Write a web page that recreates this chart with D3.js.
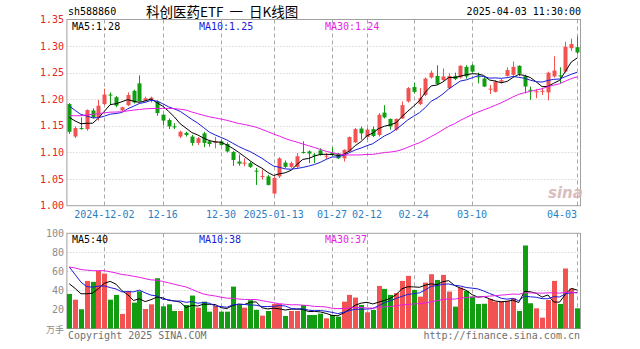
<!DOCTYPE html>
<html><head><meta charset="utf-8">
<script src="https://cdn.jsdelivr.net/npm/d3@7"></script>
<style>
body{margin:0;background:#fff}
svg{display:block}
text{font-family:"DejaVu Sans Mono","Liberation Mono",monospace}
</style>
</head><body>
<svg id="c" width="640" height="349"></svg>
<script>
// ---------- DATA ----------
const dates = ["2024-11-22","2024-11-25","2024-11-26","2024-11-27","2024-11-28","2024-11-29",
"2024-12-02","2024-12-03","2024-12-04","2024-12-05","2024-12-06","2024-12-09","2024-12-10","2024-12-11","2024-12-12","2024-12-13",
"2024-12-16","2024-12-17","2024-12-18","2024-12-19","2024-12-20","2024-12-23","2024-12-24","2024-12-25","2024-12-26","2024-12-27",
"2024-12-30","2024-12-31","2025-01-02","2025-01-03","2025-01-06","2025-01-07","2025-01-08","2025-01-09","2025-01-10",
"2025-01-13","2025-01-14","2025-01-15","2025-01-16","2025-01-17","2025-01-20","2025-01-21","2025-01-22","2025-01-23","2025-01-24",
"2025-01-27","2025-02-05","2025-02-06","2025-02-07","2025-02-10","2025-02-11","2025-02-12","2025-02-13","2025-02-14",
"2025-02-17","2025-02-18","2025-02-19","2025-02-20","2025-02-21","2025-02-24","2025-02-25","2025-02-26","2025-02-27","2025-02-28",
"2025-03-03","2025-03-04","2025-03-05","2025-03-06","2025-03-07","2025-03-10","2025-03-11","2025-03-12","2025-03-13","2025-03-14",
"2025-03-17","2025-03-18","2025-03-19","2025-03-20","2025-03-21","2025-03-24","2025-03-25","2025-03-26","2025-03-27","2025-03-28",
"2025-03-31","2025-04-01","2025-04-02","2025-04-03"];

const open  = [1.191,1.130,1.146,1.144,1.179,1.166,1.191,1.209,1.204,1.179,1.189,1.216,1.230,1.197,1.199,1.196,1.171,1.161,1.149,1.130,
1.137,1.130,1.118,1.136,1.121,1.118,1.121,1.116,1.101,1.083,1.079,1.080,1.066,1.054,1.055,1.023,1.055,1.081,1.073,1.073,
1.101,1.102,1.096,1.104,1.093,1.099,1.098,1.089,1.102,1.119,1.145,1.129,1.144,1.133,1.175,1.163,1.143,1.164,1.196,1.223,
1.191,1.208,1.241,1.244,1.236,1.221,1.244,1.241,1.261,1.264,1.243,1.239,1.219,1.214,1.233,1.244,1.246,1.263,1.244,1.218,
1.214,1.214,1.213,1.243,1.245,1.252,1.296,1.298];
const high  = [1.193,1.149,1.166,1.181,1.183,1.199,1.220,1.213,1.206,1.186,1.213,1.218,1.245,1.205,1.205,1.198,1.172,1.164,1.155,1.141,
1.139,1.133,1.129,1.139,1.124,1.129,1.124,1.119,1.103,1.096,1.089,1.083,1.071,1.068,1.058,1.055,1.091,1.085,1.083,1.099,
1.121,1.104,1.099,1.108,1.099,1.110,1.099,1.106,1.130,1.146,1.149,1.146,1.149,1.174,1.189,1.164,1.164,1.196,1.223,1.231,
1.221,1.241,1.254,1.264,1.258,1.249,1.250,1.264,1.264,1.266,1.250,1.243,1.227,1.236,1.238,1.260,1.271,1.264,1.246,1.224,
1.219,1.221,1.252,1.281,1.260,1.308,1.314,1.318];
const low   = [1.135,1.127,1.143,1.141,1.164,1.160,1.189,1.189,1.185,1.178,1.187,1.192,1.195,1.196,1.194,1.169,1.152,1.144,1.144,1.127,
1.130,1.113,1.114,1.110,1.111,1.108,1.113,1.100,1.075,1.075,1.074,1.071,1.039,1.049,1.038,1.021,1.052,1.071,1.071,1.071,
1.098,1.080,1.080,1.094,1.088,1.094,1.088,1.083,1.100,1.118,1.124,1.124,1.129,1.130,1.164,1.143,1.141,1.163,1.194,1.211,
1.189,1.206,1.239,1.227,1.235,1.219,1.236,1.239,1.239,1.250,1.230,1.223,1.210,1.213,1.230,1.243,1.244,1.244,1.211,1.199,
1.202,1.208,1.198,1.241,1.230,1.250,1.291,1.285];
const close = [1.139,1.146,1.144,1.180,1.166,1.188,1.209,1.207,1.188,1.185,1.208,1.194,1.196,1.202,1.203,1.174,1.160,1.149,1.148,1.139,
1.133,1.118,1.127,1.118,1.116,1.121,1.114,1.102,1.086,1.079,1.081,1.073,1.064,1.056,1.039,1.052,1.089,1.073,1.080,1.093,
1.100,1.098,1.095,1.096,1.094,1.098,1.089,1.105,1.129,1.144,1.136,1.143,1.131,1.171,1.166,1.149,1.163,1.189,1.221,1.214,
1.202,1.239,1.250,1.229,1.243,1.244,1.238,1.263,1.243,1.252,1.242,1.224,1.220,1.233,1.236,1.255,1.261,1.248,1.224,1.216,
1.215,1.216,1.250,1.254,1.243,1.299,1.304,1.288];
// volume, 万手
const volume = [36.3,30.3,20.2,50,49,60.5,57.7,30.3,35.3,15.3,39.1,27.2,39.1,20.5,25.4,52.8,23.3,25.4,18.4,18.4,
24.7,34.6,21.9,28.2,17.7,23.7,17.7,17.7,44,24.7,21.9,29.7,19.5,13.5,18.4,25.8,26,13.2,18.4,18.4,
24.7,14.2,14.2,15.6,10.7,14.2,12.5,28.2,35.3,32.5,24.7,17,19.5,44.7,41.6,35.3,37.2,50,55.3,40.5,
33.5,48.2,57,51,56.3,38.8,23,43,39.5,33.5,25.8,26,31,28.2,28.9,28.9,31.8,18.4,87.2,26.5,
21.2,11.4,30,50,25.8,63,42,21.2];
// sessions before the visible window (estimated, used only to seed the moving averages)
const priorCloses = [1.15,1.14,1.13,1.14,1.15,1.16,1.17,1.18,1.17,1.16,1.15,1.16,1.17,1.18,1.17,1.16,1.15,1.16,1.17,1.18,
1.23,1.22,1.21,1.20,1.185,1.18,1.17,1.175,1.166];
const priorVolumes = [62,68,70,65,60,58,66,72,64,60,62,70,66,63,61,65,68,64,62,66,
110,100,96.5,55,49.5,55,48,50,45.7];

const tickDates  = ["2024-12-02","2024-12-16","2024-12-30","2025-01-13","2025-01-27","2025-02-12","2025-02-24","2025-03-10","2025-04-03"];
const tickLabels = ["2024-12-02","12-16","12-30","2025-01-13","01-27","02-12","02-24","03-10","04-03"];
const priceTicks = [1.00,1.05,1.10,1.15,1.20,1.25,1.30,1.35];
const volTicks   = [20,40,60,80,100];
const maPeriods  = [5,10,30];
const titleParts = ["科创医药ETF","一","日K线图"];

// ---------- HELPERS ----------
function movingAvg(series, prior, n){
  const all = prior.concat(series), off = prior.length;
  return series.map((_,i)=>{
    const end = i+off, st = end-n+1;
    if (st < 0) return null;
    return d3.mean(all.slice(st, end+1));
  });
}

// ---------- LAYOUT ----------
const svg = d3.select("#c");
const L = 66.4, R = 580.0;
const mTop = 19.5, mBot = 205.7, vTop = 233.3, vBot = 328.5;
const RED = "#f25252", GREEN = "#129c12";
const maColors = ["#000000","#1c1cd8","#e61ee6"];

const x = d3.scaleBand().domain(d3.range(dates.length)).range([L, R]).paddingInner(0.3).paddingOuter(0.15);
const cx = i => x(i) + x.bandwidth()/2;
const y = d3.scaleLinear().domain([1.00,1.35]).range([mBot, mTop]);
const yv = d3.scaleLinear().domain([0,100]).range([vBot, vTop]);
const tickIdx = tickDates.map(d => dates.indexOf(d));

// ---------- HEADER ----------
svg.append("text").attr("x",68).attr("y",15).attr("font-size","10px").attr("fill","#000").text("sh588860");
const title = svg.append("text").attr("x",146).attr("y",16.5).attr("font-size","13.5px")
   .style("font-family","'Noto Sans CJK SC',sans-serif").attr("fill","#000");
titleParts.forEach((t,k)=> title.append("tspan").attr("dx", k===0 ? 0 : 6).text(t));
svg.append("text").attr("x",581).attr("y",15).attr("text-anchor","end").attr("font-size","10px").attr("fill","#000").text("2025-04-03 11:30:00");

// ---------- PANELS ----------
function panelGrid(top, bot, hVals, ys){
  const g = svg.append("g");
  g.selectAll("line.h").data(hVals).join("line")
    .attr("x1",L+1).attr("x2",R).attr("y1",d=>Math.round(ys(d))+0.5).attr("y2",d=>Math.round(ys(d))+0.5)
    .attr("stroke","#c8c8c8").attr("stroke-dasharray","1,2");
  g.selectAll("line.v").data(tickIdx).join("line")
    .attr("x1",i=>Math.round(cx(i))+0.5).attr("x2",i=>Math.round(cx(i))+0.5).attr("y1",top).attr("y2",bot)
    .attr("stroke","#a8a8a8").attr("stroke-dasharray","4,3");
  g.append("rect").attr("x",L+0.5).attr("y",top).attr("width",R-L).attr("height",bot-top)
    .attr("fill","none").attr("stroke","#a0a0a0");
}
panelGrid(mTop, mBot, priceTicks.filter(d=>d>1.0 && d<1.35), y);
panelGrid(vTop, vBot, volTicks.filter(d=>d<100), yv);

// price axis labels
svg.append("g").selectAll("text").data(priceTicks).join("text")
  .attr("x",64).attr("y",d=>y(d)+3.5).attr("text-anchor","end").attr("font-size","10px")
  .attr("fill","#e52424").text(d=>d.toFixed(2));
// volume axis labels
svg.append("g").selectAll("text").data(volTicks).join("text")
  .attr("x",64).attr("y",d=>yv(d)+3.5).attr("text-anchor","end").attr("font-size","10px")
  .attr("fill","#8c8c8c").text(d=>d);
svg.append("text").attr("x",64).attr("y",yv(0)+4).attr("text-anchor","end").attr("font-size","9px")
  .style("font-family","'Noto Sans CJK SC',sans-serif").attr("fill","#8c8c8c").text("万手");

// date labels
svg.append("g").selectAll("text").data(tickIdx).join("text")
  .attr("x",(i,k)=> cx(i)).attr("y",218)
  .attr("text-anchor",(i,k)=> k===tickIdx.length-1 ? "end" : "middle")
  .attr("font-size","10px").attr("fill","#2a7fc4").text((i,k)=>tickLabels[k]);

// ---------- WATERMARK ----------
svg.append("text").attr("x",548).attr("y",198).attr("font-size","15px").attr("font-style","italic")
  .attr("font-weight","bold").style("font-family","'DejaVu Sans',sans-serif")
  .attr("fill","#d6b8b8").attr("opacity",0.9).text("sina");

// ---------- CANDLES ----------
const idx = d3.range(dates.length);
const up = i => close[i] >= open[i];
const cg = svg.append("g");
cg.selectAll("line.wick").data(idx).join("line")
  .attr("x1",i=>Math.round(cx(i))+0.5).attr("x2",i=>Math.round(cx(i))+0.5)
  .attr("y1",i=>y(high[i])).attr("y2",i=>y(low[i]))
  .attr("stroke",i=>up(i)?RED:GREEN).attr("stroke-width",1);
cg.selectAll("rect.body").data(idx).join("rect")
  .attr("x",i=>Math.round(cx(i))-1.5).attr("width",4)
  .attr("y",i=>y(Math.max(open[i],close[i])))
  .attr("height",i=>Math.max(1, Math.abs(y(open[i])-y(close[i]))))
  .attr("fill",i=>up(i)?RED:GREEN);

// ---------- PRICE MAs ----------
maPeriods.forEach((n,k)=>{
  const m = movingAvg(close, priorCloses, n);
  const line = d3.line().defined(d=>d!=null).x((d,i)=>cx(i)).y(d=>y(d));
  svg.append("path").attr("d",line(m)).attr("fill","none").attr("stroke",maColors[k]).attr("stroke-width",1);
});

// ---------- VOLUME ----------
const vg = svg.append("g");
vg.selectAll("rect").data(idx).join("rect")
  .attr("x",i=>Math.round(cx(i))-2).attr("width",5)
  .attr("y",i=>yv(volume[i])).attr("height",i=>yv(0)-yv(volume[i]))
  .attr("fill",i=>up(i)?RED:GREEN);
maPeriods.forEach((n,k)=>{
  const m = movingAvg(volume, priorVolumes, n);
  const line = d3.line().defined(d=>d!=null).x((d,i)=>cx(i)).y(d=>yv(d));
  svg.append("path").attr("d",line(m)).attr("fill","none").attr("stroke",maColors[k]).attr("stroke-width",1);
});

// ---------- LEGENDS ----------
const lastP = maPeriods.map(n=>movingAvg(close, priorCloses, n).slice(-1)[0]);
const lastV = maPeriods.map(n=>movingAvg(volume, priorVolumes, n).slice(-1)[0]);
const legX = [72,199,325];
maPeriods.forEach((n,k)=>{
  svg.append("text").attr("x",legX[k]).attr("y",30).attr("font-size","10px").attr("fill",maColors[k])
    .text(`MA${n}:${lastP[k].toFixed(2)}`);
  svg.append("text").attr("x",legX[k]).attr("y",243).attr("font-size","10px").attr("fill",maColors[k])
    .text(`MA${n}:${Math.round(lastV[k])}`);
});

// ---------- FOOTER ----------
svg.append("text").attr("x",68).attr("y",339).attr("font-size","10px").attr("fill","#707070").text("Copyright 2025 SINA.COM");
svg.append("text").attr("x",580).attr("y",339).attr("text-anchor","end").attr("font-size","10px").attr("fill","#707070").text("http://finance.sina.com.cn");
</script>
</body></html>
